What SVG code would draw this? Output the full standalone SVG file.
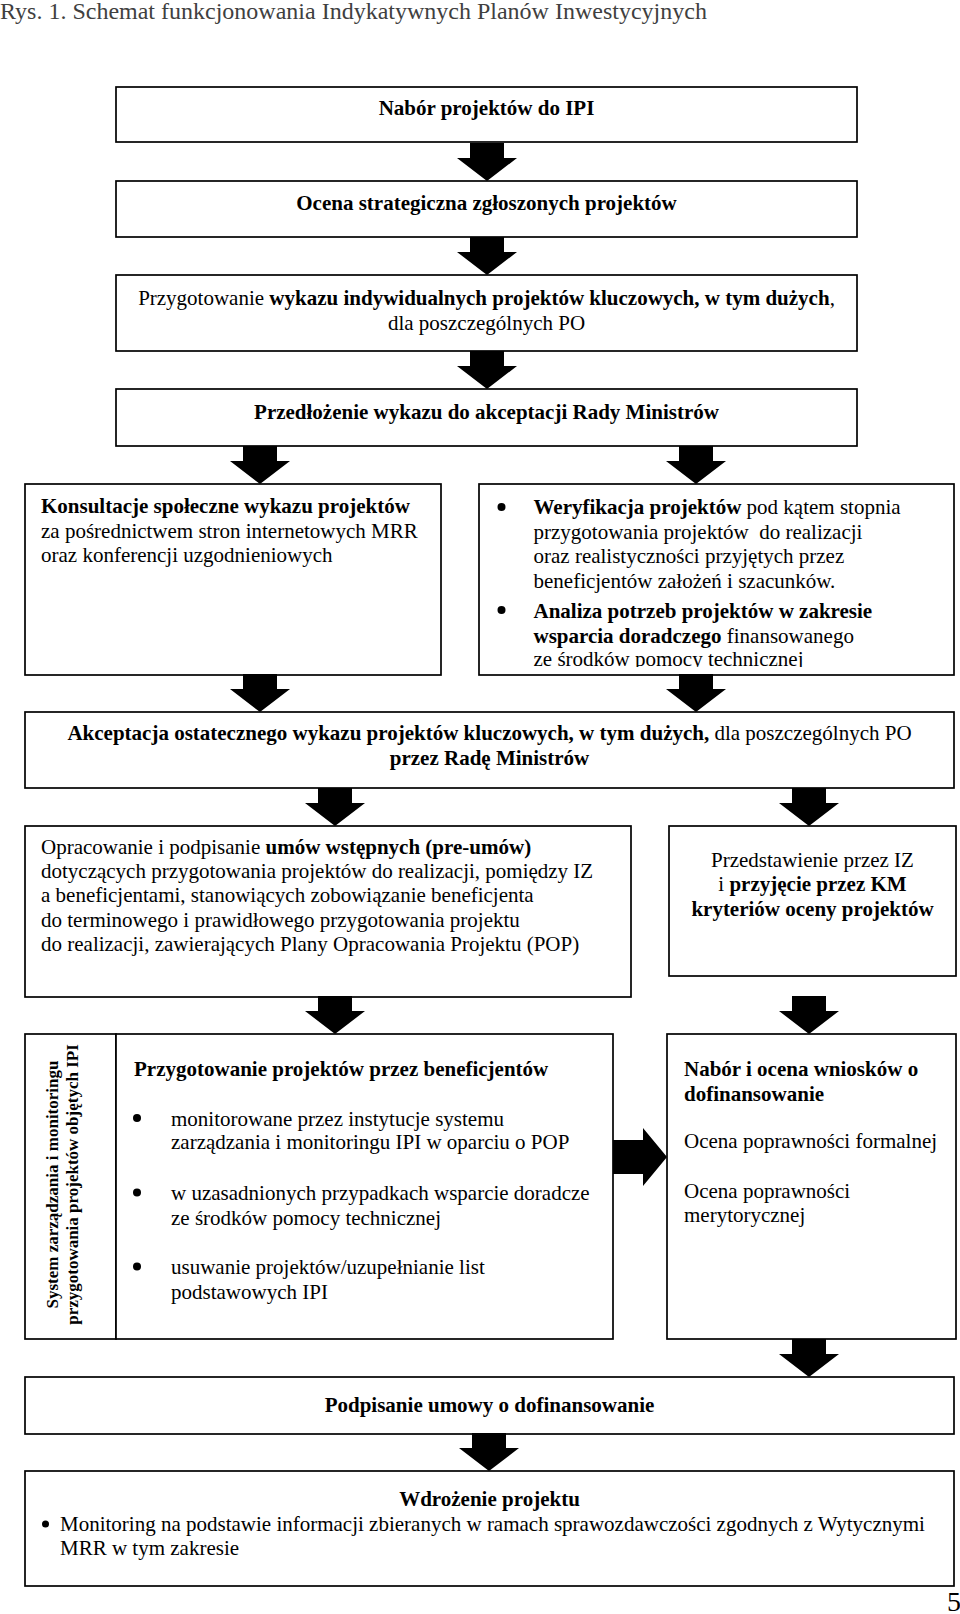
<svg xmlns="http://www.w3.org/2000/svg" xmlns:xlink="http://www.w3.org/1999/xlink" width="960" height="1614" viewBox="0 0 960 1614">
<style>
  text { font-family: "Liberation Serif", "Times New Roman", serif; font-size: 21px; fill: #000; }
  .b { font-weight: bold; }
  .c { text-anchor: middle; }
  .box { fill: #fff; stroke: #000; stroke-width: 1.7; }
  .title { font-size: 24px; fill: #404040; }
  .vt { font-size: 17px; font-weight: bold; }
</style>
<defs>
  <path id="arr" d="M-17,0 H17 V15 H30 L0,38 L-30,15 H-17 Z" fill="#000"/>
  <clipPath id="clipR"><rect x="480" y="485" width="473" height="182"/></clipPath>
</defs>
<rect width="960" height="1614" fill="#fff"/>
<text class="title" x="0" y="19">Rys. 1. Schemat funkcjonowania Indykatywnych Planów Inwestycyjnych</text>

<g id="n1"><rect class="box" x="116" y="87" width="741" height="55"/>
<text class="b c" x="486.5" y="115">Nabór projektów do IPI</text></g>

<g id="n2"><rect class="box" x="116" y="181" width="741" height="56"/>
<text class="b c" x="486.5" y="210">Ocena strategiczna zgłoszonych projektów</text></g>

<g id="n3"><rect class="box" x="116" y="275" width="741" height="76"/>
<text class="c" x="486.5" y="305">Przygotowanie <tspan class="b">wykazu indywidualnych projektów kluczowych, w tym dużych</tspan>,</text>
<text class="c" x="486.5" y="329.5">dla poszczególnych PO</text></g>

<g id="n4"><rect class="box" x="116" y="389" width="741" height="57"/>
<text class="b c" x="486.5" y="419">Przedłożenie wykazu do akceptacji Rady Ministrów</text></g>

<g id="n5"><rect class="box" x="25" y="484" width="416" height="191"/>
<text class="b" x="41" y="513">Konsultacje społeczne wykazu projektów</text>
<text x="41" y="537.5">za pośrednictwem stron internetowych MRR</text>
<text x="41" y="562">oraz konferencji uzgodnieniowych</text></g>

<g id="n6"><rect class="box" x="479" y="484" width="475" height="191"/>
<g clip-path="url(#clipR)">
<circle cx="501.5" cy="507" r="4"/>
<text x="533.5" y="514"><tspan class="b">Weryfikacja projektów</tspan> pod kątem stopnia</text>
<text x="533.5" y="538.5" xml:space="preserve">przygotowania projektów  do realizacji</text>
<text x="533.5" y="563">oraz realistyczności przyjętych przez</text>
<text x="533.5" y="588">beneficjentów założeń i szacunków.</text>
<circle cx="501.5" cy="610" r="4"/>
<text class="b" x="533.5" y="618">Analiza potrzeb projektów w zakresie</text>
<text x="533.5" y="642.5"><tspan class="b">wsparcia doradczego</tspan> finansowanego</text>
<text x="533.5" y="666">ze środków pomocy technicznej</text>
</g></g>

<g id="n7"><rect class="box" x="25" y="712" width="929" height="76"/>
<text class="c" x="489.5" y="740"><tspan class="b">Akceptacja ostatecznego wykazu projektów kluczowych, w tym dużych,</tspan> dla poszczególnych PO</text>
<text class="b c" x="489.5" y="765">przez Radę Ministrów</text></g>

<g id="n8"><rect class="box" x="25" y="826" width="606" height="171"/>
<text x="41" y="854">Opracowanie i podpisanie <tspan class="b">umów wstępnych (pre-umów)</tspan></text>
<text x="41" y="878">dotyczących przygotowania projektów do realizacji, pomiędzy IZ</text>
<text x="41" y="902">a beneficjentami, stanowiących zobowiązanie beneficjenta</text>
<text x="41" y="927">do terminowego i prawidłowego przygotowania projektu</text>
<text x="41" y="950.5">do realizacji, zawierających Plany Opracowania Projektu (POP)</text></g>

<g id="n9"><rect class="box" x="669" y="826" width="287" height="150"/>
<text class="c" x="812.5" y="867">Przedstawienie przez IZ</text>
<text class="c" x="812.5" y="891">i <tspan class="b">przyjęcie przez KM</tspan></text>
<text class="b c" x="812.5" y="915.5">kryteriów oceny projektów</text></g>

<g id="n10"><rect class="box" x="25" y="1034" width="91" height="305"/>
<text class="vt c" transform="translate(57.5,1184.5) rotate(-90)">System zarządzania i monitoringu</text>
<text class="vt c" transform="translate(78,1184.5) rotate(-90)">przygotowania projektów objętych IPI</text></g>

<g id="n11"><rect class="box" x="116" y="1034" width="497" height="305"/>
<text class="b" x="134" y="1076">Przygotowanie projektów przez beneficjentów</text>
<circle cx="137" cy="1118" r="4"/>
<text x="171" y="1125.5">monitorowane przez instytucje systemu</text>
<text x="171" y="1149">zarządzania i monitoringu IPI w oparciu o POP</text>
<circle cx="137" cy="1192.5" r="4"/>
<text x="171" y="1200">w uzasadnionych przypadkach wsparcie doradcze</text>
<text x="171" y="1224.5">ze środków pomocy technicznej</text>
<circle cx="137" cy="1266.5" r="4"/>
<text x="171" y="1274">usuwanie projektów/uzupełnianie list</text>
<text x="171" y="1298.5">podstawowych IPI</text></g>

<g id="n12"><rect class="box" x="667" y="1034" width="289" height="305"/>
<text class="b" x="684" y="1076">Nabór i ocena wniosków o</text>
<text class="b" x="684" y="1101">dofinansowanie</text>
<text x="684" y="1148">Ocena poprawności formalnej</text>
<text x="684" y="1198">Ocena poprawności</text>
<text x="684" y="1222">merytorycznej</text></g>

<g id="n13"><rect class="box" x="25" y="1377" width="929" height="57"/>
<text class="b c" x="489.5" y="1412">Podpisanie umowy o dofinansowanie</text></g>

<g id="n14"><rect class="box" x="25" y="1471" width="929" height="115"/>
<text class="b c" x="489.5" y="1506">Wdrożenie projektu</text>
<circle cx="45.5" cy="1524" r="3.5"/>
<text x="60" y="1531">Monitoring na podstawie informacji zbieranych w ramach sprawozdawczości zgodnych z Wytycznymi</text>
<text x="60" y="1555">MRR w tym zakresie</text></g>

<g id="connectors">
<use xlink:href="#arr" transform="translate(487,143)"/>
<use xlink:href="#arr" transform="translate(487,237)"/>
<use xlink:href="#arr" transform="translate(487,351)"/>
<use xlink:href="#arr" transform="translate(260,446)"/>
<use xlink:href="#arr" transform="translate(696,446)"/>
<use xlink:href="#arr" transform="translate(260,674)"/>
<use xlink:href="#arr" transform="translate(696,674)"/>
<use xlink:href="#arr" transform="translate(335,788)"/>
<use xlink:href="#arr" transform="translate(809,788)"/>
<use xlink:href="#arr" transform="translate(335,996)"/>
<use xlink:href="#arr" transform="translate(809,996)"/>
<path d="M613,1140 H643 V1128 L667,1157 L643,1186 V1174 H613 Z" fill="#000"/>
<use xlink:href="#arr" transform="translate(809,1339)"/>
<use xlink:href="#arr" transform="translate(489,1433)"/>
</g>

<text x="947" y="1611" style="font-size:28px">5</text>
</svg>
